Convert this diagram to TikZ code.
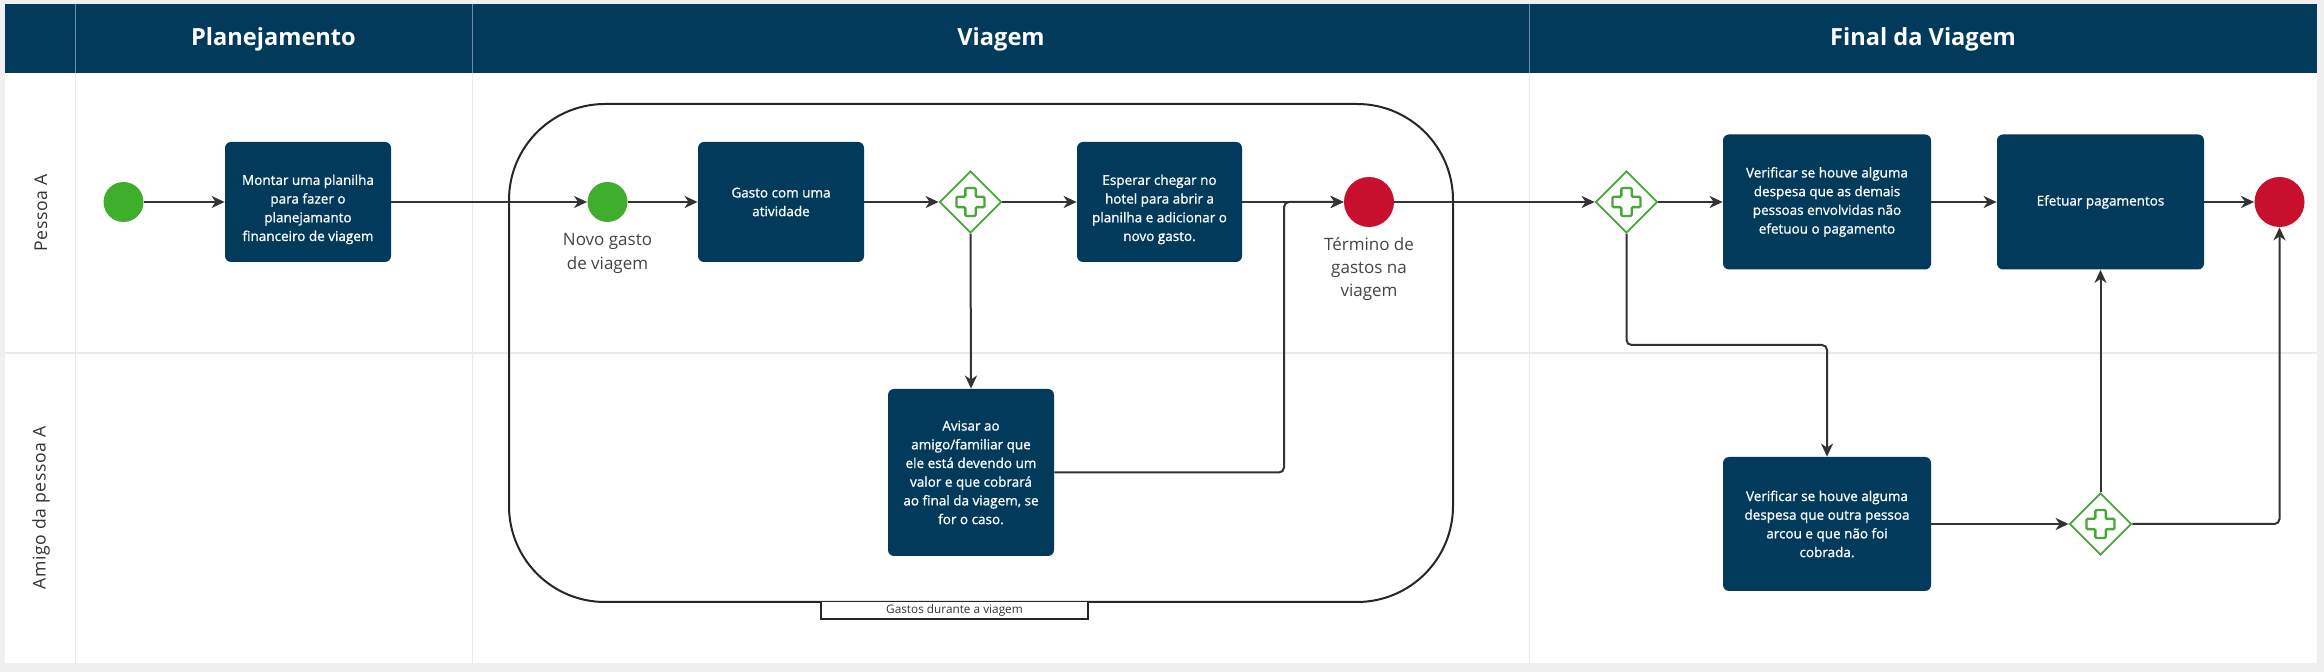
\documentclass[tikz,border=0pt]{standalone}
\usepackage{fontspec}
\setmainfont{Open Sans}
\newfontfamily\taskfont[FakeBold=1.0]{Open Sans}
\newfontfamily\lanefont[LetterSpace=3]{Open Sans}
\usetikzlibrary{shapes.geometric,arrows.meta,calc}
\definecolor{navy}{HTML}{023A5C}
\definecolor{startgreen}{HTML}{3FAE2A}
\definecolor{gwgreen}{HTML}{45A838}
\definecolor{endred}{HTML}{C8102E}
\definecolor{bggray}{HTML}{F0F0F0}
\definecolor{sepgray}{HTML}{EAEAEA}
\definecolor{hdrsep}{HTML}{6F8CA3}
\definecolor{linegray}{HTML}{333333}
\definecolor{lblgray}{HTML}{444444}
\newcommand{\lowtext}[1]{\raisebox{-3.6pt}[\height][\depth]{\begin{tabular}{@{}c@{}}#1\end{tabular}}}
\tikzset{
  task/.style={rectangle, rounded corners=3pt, fill=navy, text=white, align=center,
    font=\taskfont\fontsize{6.75}{9.35}\selectfont, inner sep=2pt},
  startev/.style={circle, fill=startgreen, minimum size=20pt, inner sep=0pt},
  endev/.style={circle, fill=endred, minimum size=25pt, inner sep=0pt},
  gw/.style={diamond, aspect=1, draw=gwgreen, line width=0.9pt, fill=white,
    minimum width=31pt, minimum height=31pt, inner sep=0pt,
    path picture={\draw[gwgreen, line width=1.2pt, rounded corners=0.6pt,
      shift={(path picture bounding box.center)}]
      (-2.6pt,-7pt) -- (2.6pt,-7pt) -- (2.6pt,-2.6pt) -- (7pt,-2.6pt) -- (7pt,2.6pt)
      -- (2.6pt,2.6pt) -- (2.6pt,7pt) -- (-2.6pt,7pt) -- (-2.6pt,2.6pt) -- (-7pt,2.6pt)
      -- (-7pt,-2.6pt) -- (-2.6pt,-2.6pt) -- cycle;}},
  flow/.style={draw=linegray, line width=1pt, rounded corners=2.5pt,
    -{Stealth[length=6.5pt, width=6pt, inset=2pt]}},
  evlabel/.style={align=center, text=lblgray, font=\fontsize{8.5}{11.6}\selectfont},
  lanelabel/.style={rotate=90, text=linegray, font=\lanefont\fontsize{8.8}{10}\selectfont},
  hdrtitle/.style={text=white, font=\fontsize{11.8}{14}\selectfont\bfseries},
}
\begin{document}
\begin{tikzpicture}[x=0.5pt, y=-0.5pt]
% background and canvas
\fill[bggray] (0,0) rectangle (2324,672);
\useasboundingbox (0,0) rectangle (2324,672);
\fill[white] (5,4) rectangle (2317,663);
% body separators
\draw[sepgray, line width=0.8pt] (75.5,73) -- (75.5,663);
\draw[sepgray, line width=0.8pt] (472.5,73) -- (472.5,663);
\draw[sepgray, line width=0.8pt] (1529.5,73) -- (1529.5,663);
\draw[sepgray, line width=0.8pt] (5,353) -- (2317,353);
% header
\fill[navy] (5,4) rectangle (2317,73);
\draw[hdrsep, line width=0.5pt] (75.5,4) -- (75.5,73);
\draw[hdrsep, line width=0.5pt] (472.5,4) -- (472.5,73);
\draw[hdrsep, line width=0.5pt] (1529.5,4) -- (1529.5,73);
\node[hdrtitle] (h1) at (273.5,39) {Planejamento};
\node[hdrtitle] (h2) at (1001,39) {Viagem};
\node[hdrtitle] (h3) at (1923,39) {Final da Viagem};
% lane labels
\node[lanelabel] (l1) at (41,213) {Pessoa A};
\node[lanelabel] (l2) at (41,508) {Amigo da pessoa A};
% group
\draw[draw=black!85, line width=1pt, rounded corners=48pt] (509,104) rectangle (1453,602);
\node[draw=black!85, line width=0.8pt, fill=white, minimum width=133.5pt, minimum height=8.8pt,
  inner sep=0pt, text=linegray, font=\fontsize{5.9}{7}\selectfont] (grp) at (954.5,610.5) {Gastos durante a viagem};
% nodes
\node[startev] (start1) at (123.5,202) {};
\node[task, minimum width=83pt, minimum height=60pt] (montar) at (308,202)
  {\lowtext{Montar uma planilha\\para fazer o\\planejamanto\\financeiro de viagem}};
\node[startev] (novo) at (607.5,202) {};
\node[evlabel] (novolbl) at (607.5,253.5) {Novo gasto\\de viagem};
\node[task, minimum width=83pt, minimum height=60pt] (gasto) at (781,202)
  {Gasto com uma\\atividade};
\node[gw] (gw1) at (970.5,202) {};
\node[task, minimum width=82.5pt, minimum height=60pt] (esperar) at (1159.5,202)
  {\lowtext{Esperar chegar no\\hotel para abrir a\\planilha e adicionar o\\novo gasto.}};
\node[endev] (end1) at (1369,202) {};
\node[evlabel] (termlbl) at (1369,269) {Término de\\gastos na\\viagem};
\node[task, minimum width=83pt, minimum height=83.5pt] (avisar) at (971,472.5)
  {Avisar ao\\amigo/familiar que\\ele está devendo um\\valor e que cobrará\\ao final da viagem, se\\for o caso.};
\node[gw] (gw2) at (1626.5,202) {};
\node[task, minimum width=104pt, minimum height=67.5pt] (ver1) at (1827,202)
  {Verificar se houve alguma\\despesa que as demais\\pessoas envolvidas não\\efetuou o pagamento};
\node[task, minimum width=103.5pt, minimum height=67.5pt] (efetuar) at (2100.5,202)
  {Efetuar pagamentos};
\node[endev] (end2) at (2279.5,202) {};
\node[task, minimum width=104pt, minimum height=67pt] (ver2) at (1827,524)
  {Verificar se houve alguma\\despesa que outra pessoa\\arcou e que não foi\\cobrada.};
\node[gw] (gw3) at (2100.5,524) {};
% helper coordinates
\coordinate (m1) at (1284,202);
\coordinate (b1) at (1626.5,345);
% connectors
\draw[flow] (start1) -- (montar);
\draw[flow] (montar) -- (novo);
\draw[flow] (novo) -- (gasto);
\draw[flow] (gasto) -- (gw1);
\draw[flow] (gw1) -- (esperar);
\draw[flow] (esperar) -- (end1);
\draw[flow] (gw1.south) -- (avisar.north);
\draw[flow] (avisar.east) -| (m1) -- (end1.west);
\draw[flow] (end1) -- (gw2);
\draw[flow] (gw2) -- (ver1);
\draw[flow] (ver1) -- (efetuar);
\draw[flow] (efetuar) -- (end2);
\draw[flow] (gw2.south) -- (b1) -| (ver2.north);
\draw[flow] (ver2) -- (gw3);
\draw[flow] (gw3.north) -- (efetuar.south);
\draw[flow] (gw3.east) -| (end2.south);
\end{tikzpicture}
\end{document}
